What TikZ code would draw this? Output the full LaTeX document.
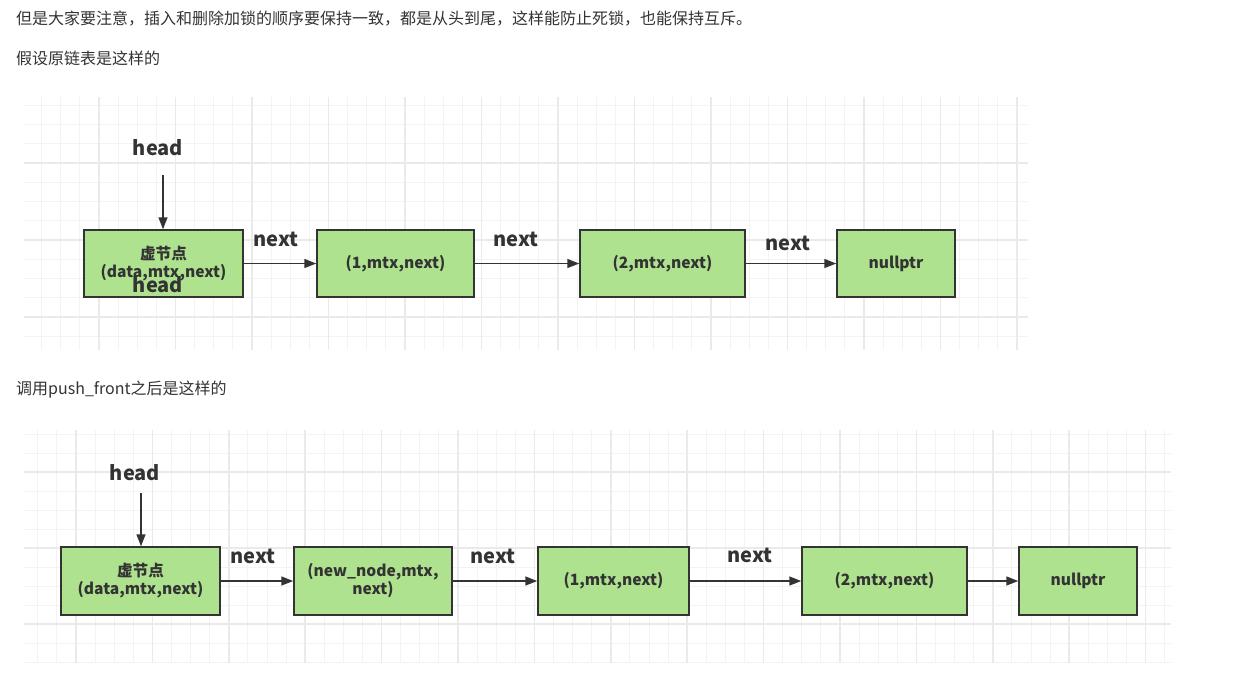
\documentclass[tikz,border=0pt]{standalone}
\usepackage{fontspec}
\setmainfont{Noto Sans CJK SC}
\usetikzlibrary{arrows.meta}
\definecolor{txt}{HTML}{333333}
\definecolor{nodefill}{HTML}{AEE28F}
\definecolor{gminor}{HTML}{F3F3F3}
\definecolor{gmajor}{HTML}{EAEAEA}
\tikzset{
  box/.style={draw=txt, line width=1.5pt, fill=nodefill, text=txt, font=\bfseries\fontsize{15.6}{18}\selectfont, align=center, inner sep=0pt},
  lbl/.style={text=txt, font=\bfseries\fontsize{20}{22}\selectfont, inner sep=0pt},
  para/.style={text=txt, font=\fontsize{16}{18}\selectfont, anchor=west, inner sep=0pt},
  conn/.style={draw=txt, line width=1.5pt, -{Triangle[length=12pt,width=9pt]}},
  minor/.style={draw=gminor, line width=1pt},
  major/.style={draw=gmajor, line width=1.6pt}
}
\begin{document}
\begin{tikzpicture}[x=1pt,y=-1pt]
\useasboundingbox (0,0) rectangle (1241,689);
\fill[white] (0,0) rectangle (1241,689);
% text
\node[para] (t1) at (16,19) {但是大家要注意，插入和删除加锁的顺序要保持一致，都是从头到尾，这样能防止死锁，也能保持互斥。};
\node[para] (t2) at (16,58) {假设原链表是这样的};
\node[para] (t3) at (16,390) {调用push\_front之后是这样的};
% grid 1
\begin{scope}
\clip (24,97) rectangle (1028,350);
\foreach \i in {-5,...,50} {\draw[minor] (99+\i*19.125,97) -- (99+\i*19.125,350);}
\foreach \i in {-4,...,10} {\draw[minor] (24,163+\i*19.25) -- (1028,163+\i*19.25);}
\foreach \i in {-1,...,13} {\draw[major] (99+\i*76.5,97) -- (99+\i*76.5,350);}
\foreach \i in {-1,...,3} {\draw[major] (24,163+\i*77) -- (1028,163+\i*77);}
\end{scope}
% grid 2
\begin{scope}
\clip (24,430) rectangle (1171,663);
\foreach \i in {-5,...,60} {\draw[minor] (76+\i*19.1,430) -- (76+\i*19.1,663);}
\foreach \i in {-3,...,10} {\draw[minor] (24,472+\i*19) -- (1171,472+\i*19);}
\foreach \i in {-1,...,15} {\draw[major] (76+\i*76.4,430) -- (76+\i*76.4,663);}
\foreach \i in {-1,...,3} {\draw[major] (24,472+\i*76) -- (1171,472+\i*76);}
\end{scope}
% panel 1
\node[box, minimum width=159pt, minimum height=67pt] (a0) at (163.5,263.5) {虚节点\\(data,mtx,next)};
\node[box, minimum width=157pt, minimum height=67pt] (a1) at (395.5,263.5) {(1,mtx,next)};
\node[box, minimum width=165pt, minimum height=67pt] (a2) at (662.5,263.5) {(2,mtx,next)};
\node[box, minimum width=118pt, minimum height=67pt] (a3) at (896,263.5) {nullptr};
\node[lbl] (h1) at (158,148) {head};
\node[lbl] (h1b) at (158,285) {head};
\coordinate (h1s) at (163,175);
\draw[conn] (h1s) -- (a0.north -| h1s);
\draw[conn] (a0.east) -- (a1.west);
\draw[conn] (a1.east) -- (a2.west);
\draw[conn] (a2.east) -- (a3.west);
\node[lbl] (n1) at (276,239) {next};
\node[lbl] (n2) at (516,239) {next};
\node[lbl] (n3) at (788,243) {next};
% panel 2
\node[box, minimum width=159pt, minimum height=68pt] (b0) at (140.5,581) {虚节点\\(data,mtx,next)};
\node[box, minimum width=158pt, minimum height=68pt] (b1) at (373,581) {(new\_node,mtx,\\next)};
\node[box, minimum width=151pt, minimum height=68pt] (b2) at (613.5,581) {(1,mtx,next)};
\node[box, minimum width=165pt, minimum height=68pt] (b3) at (884.5,581) {(2,mtx,next)};
\node[box, minimum width=118pt, minimum height=68pt] (b4) at (1078,581) {nullptr};
\node[lbl] (h2) at (135,473) {head};
\coordinate (h2s) at (141,493);
\draw[conn] (h2s) -- (b0.north -| h2s);
\draw[conn] (b0.east) -- (b1.west);
\draw[conn] (b1.east) -- (b2.west);
\draw[conn] (b2.east) -- (b3.west);
\draw[conn] (b3.east) -- (b4.west);
\node[lbl] (m1) at (253,556) {next};
\node[lbl] (m2) at (493,556) {next};
\node[lbl] (m3) at (750,555) {next};
\end{tikzpicture}
\end{document}
